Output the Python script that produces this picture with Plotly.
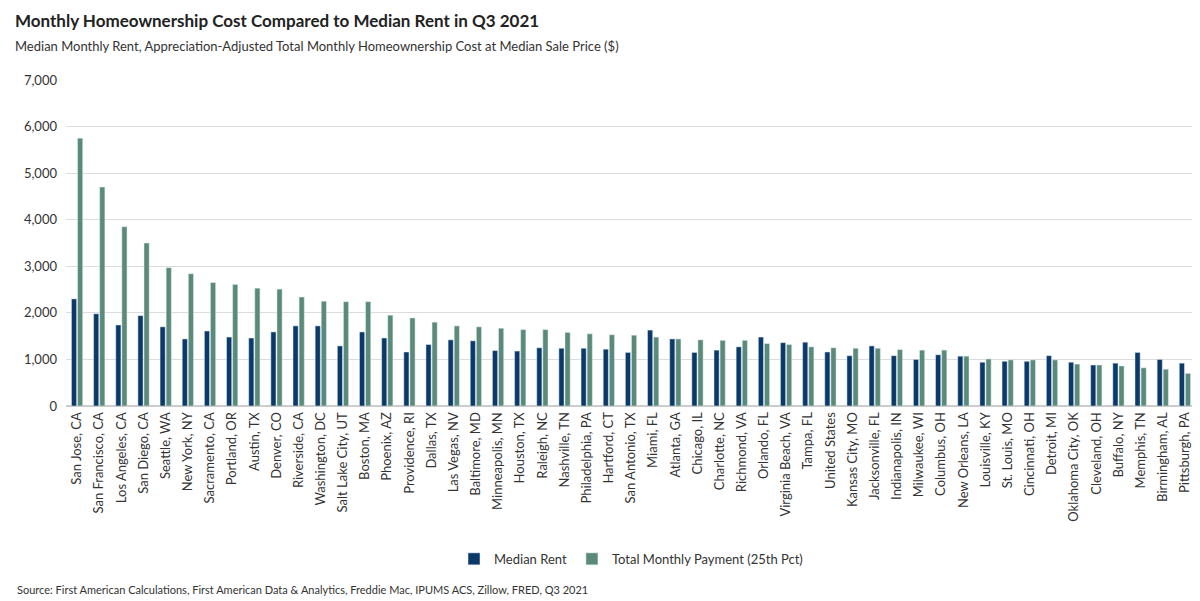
import plotly.graph_objects as go

cities = ["San Jose, CA", "San Francisco, CA", "Los Angeles, CA", "San Diego, CA", "Seattle, WA",
          "New York, NY", "Sacramento, CA", "Portland, OR", "Austin, TX", "Denver, CO",
          "Riverside, CA", "Washington, DC", "Salt Lake City, UT", "Boston, MA", "Phoenix, AZ",
          "Providence, RI", "Dallas, TX", "Las Vegas, NV", "Baltimore, MD", "Minneapolis, MN",
          "Houston, TX", "Raleigh, NC", "Nashville, TN", "Philadelphia, PA", "Hartford, CT",
          "San Antonio, TX", "Miami, FL", "Atlanta, GA", "Chicago, IL", "Charlotte, NC",
          "Richmond, VA", "Orlando, FL", "Virginia Beach, VA", "Tampa, FL", "United States",
          "Kansas City, MO", "Jacksonville, FL", "Indianapolis, IN", "Milwaukee, WI", "Columbus, OH",
          "New Orleans, LA", "Louisville, KY", "St. Louis, MO", "Cincinnati, OH", "Detroit, MI",
          "Oklahoma City, OK", "Cleveland, OH", "Buffalo, NY", "Memphis, TN", "Birmingham, AL",
          "Pittsburgh, PA"]

median_rent = [2300, 1980, 1740, 1940, 1700, 1440, 1610, 1480, 1460, 1590,
               1720, 1720, 1290, 1590, 1460, 1160, 1320, 1420, 1400, 1190,
               1180, 1250, 1240, 1240, 1220, 1150, 1630, 1440, 1150, 1200,
               1270, 1480, 1360, 1370, 1160, 1080, 1290, 1080, 1000, 1100,
               1070, 940, 960, 960, 1080, 940, 880, 920, 1150, 1000, 920]

total_payment = [5750, 4700, 3850, 3500, 2970, 2840, 2650, 2610, 2530, 2510,
                 2340, 2250, 2240, 2240, 1950, 1890, 1800, 1720, 1700, 1670,
                 1640, 1640, 1580, 1550, 1530, 1520, 1480, 1440, 1420, 1410,
                 1410, 1340, 1320, 1270, 1250, 1240, 1240, 1210, 1200, 1200,
                 1070, 1010, 990, 990, 990, 900, 880, 860, 820, 790, 700]

fig = go.Figure()
fig.add_trace(go.Bar(x=cities, y=median_rent, name="Median Rent", marker_color="#0b3a6a"))
fig.add_trace(go.Bar(x=cities, y=total_payment, name="Total Monthly Payment (25th Pct)",
                     marker_color="#5a8a78"))

fig.update_layout(
    width=1200, height=601,
    font=dict(family="Lato", size=13, color="#333"),
    plot_bgcolor="white", paper_bgcolor="white",
    barmode="group", bargap=0.45, bargroupgap=0.15,
    margin=dict(l=58, r=12, t=72, b=203, autoexpand=False),
    legend=dict(orientation="h", x=0.5, xanchor="center", y=-0.469, yanchor="middle",
                font=dict(size=13)),
)
fig.update_yaxes(range=[0, 7000], dtick=1000, tickformat=",", gridcolor="#dcdcdc",
                 zeroline=True, zerolinecolor="#cccccc", ticks="", ticklabelstandoff=8)
fig.update_xaxes(tickangle=-90, tickfont=dict(size=13), showline=True, linecolor="#cccccc",
                 automargin=False)
fig.add_annotation(text="<b>Monthly Homeownership Cost Compared to Median Rent in Q3 2021</b>",
                   xref="paper", yref="paper", x=-0.047, y=1.184, xanchor="left", yanchor="middle",
                   showarrow=False, font=dict(size=17, color="#222"))
fig.add_annotation(text="Median Monthly Rent, Appreciation-Adjusted Total Monthly Homeownership Cost at Median Sale Price ($)",
                   xref="paper", yref="paper", x=-0.047, y=1.104, xanchor="left", yanchor="middle",
                   showarrow=False, font=dict(size=13, color="#333"))
fig.add_annotation(text="Source: First American Calculations, First American Data & Analytics, Freddie Mac, IPUMS ACS, Zillow, FRED, Q3 2021",
                   xref="paper", yref="paper", x=-0.045, y=-0.564, xanchor="left", yanchor="middle",
                   showarrow=False, font=dict(size=11, color="#333"))

fig.write_html("out.html")
